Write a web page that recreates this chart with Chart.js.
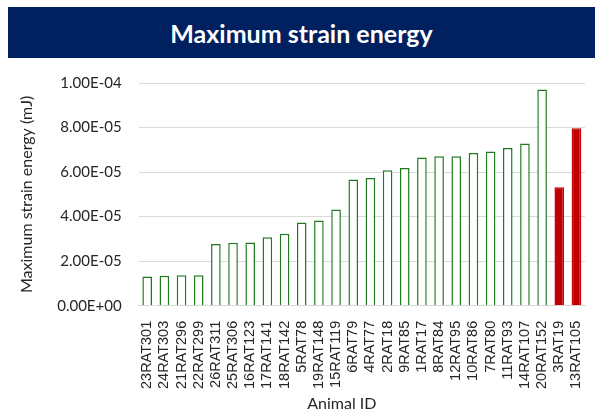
<!DOCTYPE html>
<html>
<head>
<meta charset="utf-8">
<script src="https://cdn.jsdelivr.net/npm/chart.js@4.4.0/dist/chart.umd.min.js"></script>
<style>
  html, body { margin: 0; padding: 0; background: #fff; }
  #wrap { position: relative; width: 601px; height: 418px; }
  #banner {
    position: absolute; left: 8px; top: 7px; width: 587px; height: 51px;
    background: #002060; color: #fff;
    font: bold 25px Lato, "Open Sans", sans-serif;
    display: flex; align-items: center; justify-content: center;
  }
  canvas { position: absolute; left: 0; top: 0; }
</style>
</head>
<body>
<div id="wrap">
  <div id="banner">Maximum strain energy</div>
  <canvas id="chart" width="601" height="418"></canvas>
</div>
<script>
const animalIds = ['23RAT301', '24RAT303', '21RAT296', '22RAT299', '26RAT311', '25RAT306',
  '16RAT123', '17RAT141', '18RAT142', '5RAT78', '19RAT148', '15RAT119', '6RAT79', '4RAT77',
  '2RAT18', '9RAT85', '1RAT17', '8RAT84', '12RAT95', '10RAT86', '7RAT80', '11RAT93',
  '14RAT107', '20RAT152', '3RAT19', '13RAT105'];
const strainEnergy = [1.31e-5, 1.35e-5, 1.37e-5, 1.37e-5, 2.77e-5, 2.83e-5,
  2.84e-5, 3.08e-5, 3.23e-5, 3.74e-5, 3.83e-5, 4.32e-5, 5.67e-5, 5.74e-5,
  6.08e-5, 6.18e-5, 6.65e-5, 6.71e-5, 6.71e-5, 6.86e-5, 6.93e-5, 7.08e-5,
  7.28e-5, 9.71e-5, 5.32e-5, 7.97e-5];
const highlighted = ['3RAT19', '13RAT105'];

const green = '#1f7a1f';
const red = '#c00000';

function sciLabel(v) {
  const [m, e] = Number(v).toExponential(2).toUpperCase().split('E');
  const n = parseInt(e, 10);
  const sign = n < 0 ? '-' : '+';
  return m + 'E' + sign + String(Math.abs(n)).padStart(2, '0');
}

// x axis title sits a bit left of the plot centre in the original
const xTitle = {
  id: 'xTitle',
  afterDraw(chart) {
    const ctx = chart.ctx;
    const area = chart.chartArea;
    ctx.save();
    ctx.font = '16px Lato, "Open Sans", sans-serif';
    ctx.fillStyle = '#262626';
    ctx.textAlign = 'center';
    ctx.textBaseline = 'middle';
    ctx.fillText('Animal ID', (area.left + area.right) / 2 - 20, 404);
    ctx.restore();
  }
};

new Chart(document.getElementById('chart').getContext('2d'), {
  type: 'bar',
  data: {
    labels: animalIds,
    datasets: [{
      data: strainEnergy,
      backgroundColor: animalIds.map(id => highlighted.includes(id) ? red : '#ffffff'),
      borderColor: animalIds.map(id => highlighted.includes(id) ? red : green),
      borderWidth: 1.5,
      categoryPercentage: 1,
      barPercentage: 0.56
    }]
  },
  options: {
    responsive: false,
    animation: false,
    layout: { padding: { top: 83, right: 8, bottom: 22, left: 17 } },
    plugins: { legend: { display: false }, tooltip: { enabled: false } },
    scales: {
      x: {
        grid: { display: false },
        border: { color: '#d9d9d9' },
        ticks: {
          minRotation: 90, maxRotation: 90, autoSkip: false, padding: 7,
          color: '#262626',
          font: { family: '"Liberation Sans", Arial, sans-serif', size: 14.5 }
        }
      },
      y: {
        min: 0, max: 1e-4,
        grid: { color: '#d9d9d9', drawTicks: false },
        border: { display: false },
        ticks: {
          stepSize: 2e-5, padding: 17, color: '#262626',
          font: { family: 'Lato, "Open Sans", sans-serif', size: 15 },
          callback: v => sciLabel(v)
        },
        title: {
          display: true, text: 'Maximum strain energy (mJ)', color: '#262626',
          font: { family: 'Lato, "Open Sans", sans-serif', size: 16 },
          padding: { top: 0, bottom: 4 }
        }
      }
    }
  },
  plugins: [xTitle]
});
</script>
</body>
</html>
